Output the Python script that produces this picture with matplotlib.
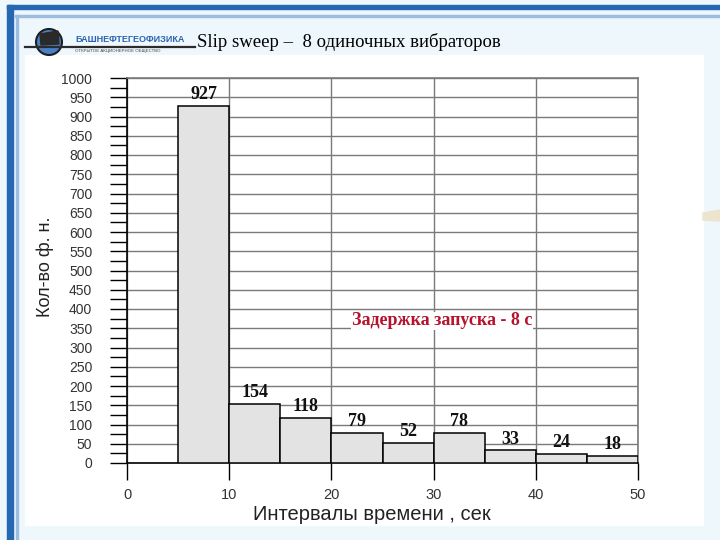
import numpy as np
import matplotlib.pyplot as plt
from matplotlib.patches import Rectangle, Circle, Polygon

# histogram of time intervals between shots
bin_edges = [5, 10, 15, 20, 25, 30, 35, 40, 45, 50]
counts = [927, 154, 118, 79, 52, 78, 33, 24, 18]
x_ticks = [0, 10, 20, 30, 40, 50]
y_ticks = list(range(0, 1001, 50))

title = "Slip sweep –  8 одиночных вибраторов"
note = "Задержка запуска - 8 с"
x_label = "Интервалы времени , сек"
y_label = "Кол-во ф. н."
company = "БАШНЕФТЕГЕОФИЗИКА"
company_sub = "ОТКРЫТОЕ АКЦИОНЕРНОЕ ОБЩЕСТВО"

SANS = ["Liberation Sans", "DejaVu Sans"]
SERIF = ["Liberation Serif", "DejaVu Serif"]

fig = plt.figure(figsize=(7.2, 5.4), dpi=100)
fig.patch.set_facecolor("#eef7fb")

# slide decoration in pixel coordinates
bg = fig.add_axes([0, 0, 1, 1])
bg.set_xlim(0, 720)
bg.set_ylim(540, 0)
bg.axis("off")
bg.add_patch(Rectangle((25, 55), 678, 470, color="white"))
bg.add_patch(Rectangle((7, 5), 713, 4, color="#2467b2"))
bg.add_patch(Rectangle((7, 5), 6, 535, color="#2467b2"))
bg.add_patch(Rectangle((15, 15), 705, 2, color="#9dbde0"))
bg.add_patch(Rectangle((16, 15), 2, 525, color="#9dbde0"))
bg.add_patch(Polygon([(703, 213), (720, 210), (720, 221), (703, 220)], color="#ece4cf"))

# logo
bg.plot([25, 195], [47, 47], color="#2b2b2b", lw=1.6)
bg.add_patch(Circle((49, 42), 13, facecolor="#4b7fc4", edgecolor="#1e1e1e", lw=1.5))
bg.add_patch(Polygon([(40, 34), (58, 31), (59, 44), (41, 45)], color="#2a2a2a"))
bg.text(75, 39, company, fontsize=6.5, fontweight="bold", color="#2d63b0",
        family=SANS, va="center", ha="left")
bg.text(75, 51, company_sub, fontsize=3.2, color="#444444",
        family=SANS, va="center", ha="left")
bg.text(197, 42, title, fontsize=13.5, color="black", family=SERIF,
        va="center", ha="left")

ax = fig.add_axes([127 / 720, 1 - 463 / 540, 511 / 720, 385 / 540])
ax.set_facecolor("white")

widths = np.diff(bin_edges)
bars = ax.bar(bin_edges[:-1], counts, width=widths, align="edge",
              color="#e3e3e3", edgecolor="black", linewidth=1.1, zorder=3)
ax.bar_label(bars, padding=2, fontsize=13, fontweight="bold",
             family=SERIF, color="#111111")

ax.set_xlim(0, 50)
ax.set_ylim(0, 1000)
ax.set_xticks(x_ticks)
ax.set_yticks(y_ticks)
ax.set_yticks(np.arange(25, 1000, 50), minor=True)
ax.grid(True, which="major", color="#7a7a7a", lw=1.0)
ax.set_axisbelow(True)

ax.tick_params(axis="y", which="both", length=12, width=1, pad=13,
               labelsize=10, labelcolor="#333333", color="black")
ax.tick_params(axis="x", which="major", length=12, width=1, pad=6,
               labelsize=10.5, labelcolor="#333333", color="black")
for lbl in ax.get_xticklabels() + ax.get_yticklabels():
    lbl.set_family(SANS)

for side in ("left", "bottom"):
    ax.spines[side].set_color("black")
    ax.spines[side].set_linewidth(1.2)
for side in ("top", "right"):
    ax.spines[side].set_color("#7a7a7a")
    ax.spines[side].set_linewidth(1.2)

ax.text(30.8, 369, note, ha="center", va="center", color="#b5122b",
        fontsize=13, fontweight="bold", family=SERIF, zorder=4,
        bbox=dict(facecolor="white", edgecolor="none", pad=0.5))

ax.set_xlabel(x_label, fontsize=14.5, family=SANS, color="#222222")
ax.xaxis.set_label_coords((372 - 127) / 511, -(515 - 463) / 385)
ax.xaxis.label.set_va("center")
ax.set_ylabel(y_label, fontsize=13, family=SANS, color="#222222")
ax.yaxis.set_label_coords((45 - 127) / 511, (463 - 267) / 385)
ax.yaxis.label.set_va("center")

fig.savefig("out.png", dpi=100, facecolor=fig.get_facecolor())
